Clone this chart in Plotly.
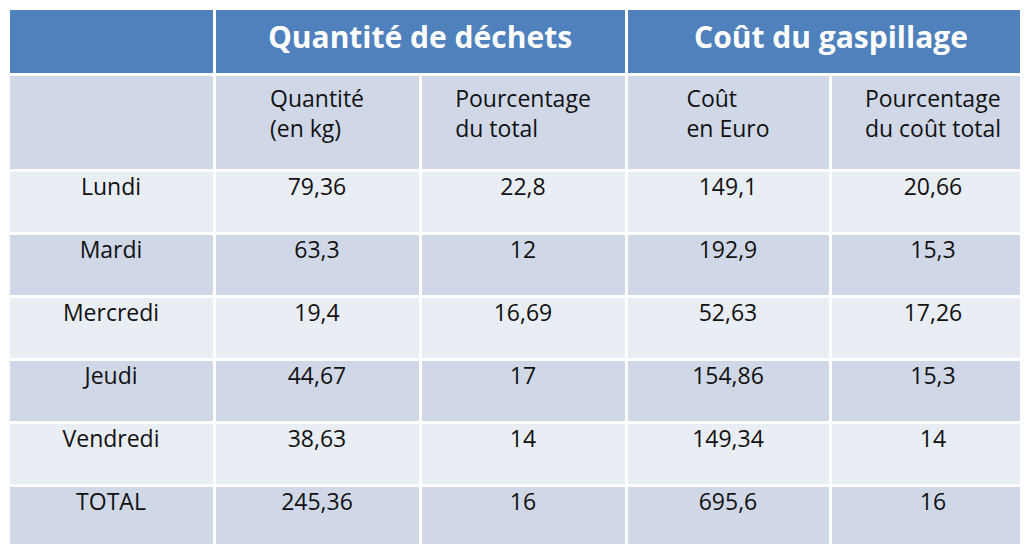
import plotly.graph_objects as go

jours = ["Lundi", "Mardi", "Mercredi", "Jeudi", "Vendredi", "TOTAL"]
quantite = ["79,36", "63,3", "19,4", "44,67", "38,63", "245,36"]
pct_total = ["22,8", "12", "16,69", "17", "14", "16"]
cout = ["149,1", "192,9", "52,63", "154,86", "149,34", "695,6"]
pct_cout = ["20,66", "15,3", "17,26", "15,3", "14", "16"]

groupes = ["", "Quantité de déchets", "Coût du gaspillage"]
sous_titres = ["", "Quantité<br>(en kg)", "Pourcentage<br>du total",
               "Coût<br>en Euro", "Pourcentage<br>du coût total"]

BLUE = "#4f81bd"
DARK = "#d0d8e8"
LIGHT = "#e9edf4"
FONT = "Open Sans"
W, H = 1028, 544
TOP = 66

row_fill = [LIGHT if i % 2 == 0 else DARK for i in range(len(jours))]

fig = go.Figure()

fig.add_trace(go.Table(
    domain=dict(x=[0, 1], y=[1 - TOP / H, 1]),
    columnwidth=[206, 412, 410],
    header=dict(
        values=[f"<b>{g}</b>" for g in groupes],
        fill_color=BLUE,
        line=dict(color="white", width=3),
        font=dict(family=FONT, size=30, color="white"),
        align="center",
        height=TOP,
    ),
    cells=dict(values=[[], [], []], height=0),
))

fig.add_trace(go.Table(
    domain=dict(x=[0, 1], y=[0, 1 - TOP / H]),
    columnwidth=[206, 206, 206, 204, 206],
    header=dict(
        values=sous_titres,
        fill_color=DARK,
        line=dict(color="white", width=3),
        font=dict(family=FONT, size=23, color="#111111"),
        align="center",
        height=96,
    ),
    cells=dict(
        values=[jours, quantite, pct_total, cout, pct_cout],
        fill_color=[row_fill] * 5,
        line=dict(color="white", width=3),
        font=dict(family=FONT, size=23, color="#111111"),
        align="center",
        height=63,
    ),
))

fig.update_layout(
    width=W, height=H,
    margin=dict(l=0, r=0, t=0, b=0),
    paper_bgcolor="white",
)

fig.write_html("out.html")
